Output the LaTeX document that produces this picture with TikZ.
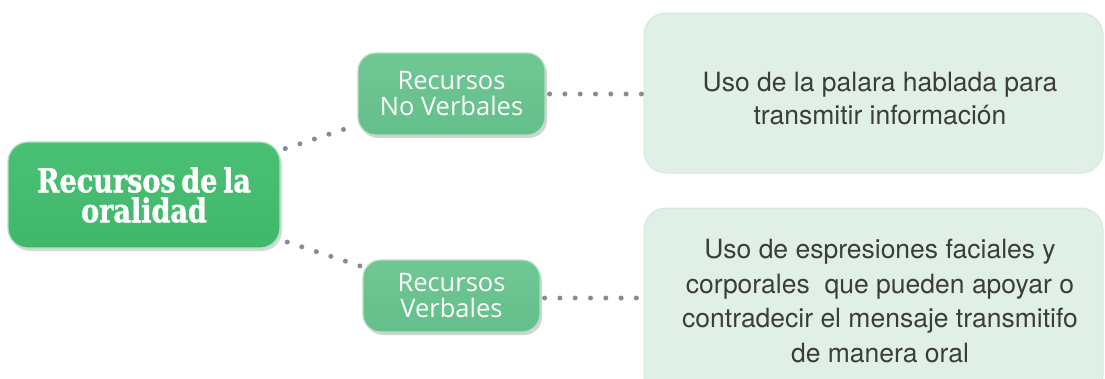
\documentclass[tikz,border=0pt]{standalone}
\usepackage{fontspec}
\setmainfont{TeX Gyre Heros}
\newfontfamily\midfont{Open Sans}
\newfontfamily\mainfont[FakeStretch=0.82,WordSpace=0.6,BoldFeatures={FakeBold=1.2}]{DejaVu Serif}
\usetikzlibrary{shadows}
\definecolor{maingreen}{RGB}{64,184,106}
\definecolor{maingreentop}{RGB}{74,192,116}
\definecolor{midgreen}{RGB}{100,191,138}
\definecolor{midgreentop}{RGB}{112,199,148}
\definecolor{edgegreen}{RGB}{178,224,193}
\definecolor{palegreen}{RGB}{225,240,230}
\definecolor{paleedge}{RGB}{210,233,218}
\definecolor{dotgray}{RGB}{138,138,148}
\definecolor{txtgray}{RGB}{60,60,60}
\tikzset{
  mainbox/.style={rounded corners=20pt, top color=maingreentop, bottom color=maingreen,
    draw=edgegreen, line width=1.2pt, minimum width=272pt, minimum height=106pt,
    align=center, text=white, inner sep=0pt,
    font=\mainfont\bfseries\fontsize{33}{30}\selectfont,
    drop shadow={shadow xshift=2pt, shadow yshift=-3pt, opacity=0.3, fill=gray}},
  midbox/.style={rounded corners=18pt, top color=midgreentop, bottom color=midgreen,
    draw=edgegreen, line width=1.2pt, align=center, text=white, inner sep=0pt,
    font=\midfont\fontsize{25.5}{26}\selectfont,
    drop shadow={shadow xshift=2pt, shadow yshift=-3pt, opacity=0.35, fill=gray}},
  infobox/.style={rounded corners=22pt, fill=palegreen, draw=paleedge, line width=1pt,
    minimum width=459pt, inner sep=0pt},
  infotext/.style={text=txtgray, align=center, inner sep=0pt},
  dotline/.style={draw=dotgray, line width=5pt, line cap=round, dash pattern=on 0pt off 15.3pt},
}
\begin{document}
\begin{tikzpicture}[x=1pt,y=-1pt]
\useasboundingbox (0,0) rectangle (1105,378);
\clip (0,0) rectangle (1105,378);
\node[mainbox] (main) at (144,195) {Recursos de la\\oralidad};
\node[midbox, minimum width=187pt, minimum height=82pt] (nv) at (451.5,94) {Recursos\\No Verbales};
\node[midbox, minimum width=177pt, minimum height=72pt] (v) at (451.5,296) {Recursos\\Verbales};
\node[infobox, minimum height=160pt] (r1) at (873.5,93) {};
\node[infobox, minimum height=190pt] (r2) at (873.5,303) {};
\node[infotext, font=\fontsize{26.5}{33}\selectfont] (t1) at (880,99) {Uso de la palara hablada para\\transmitir información};
\node[infotext, font=\fontsize{26.5}{34.5}\selectfont] (t2) at (880,301) {Uso de espresiones faciales y\\corporales\ \ que pueden apoyar o\\contradecir el mensaje transmitifo\\de manera oral};
\draw[dotline, shorten <=5pt] (main) -- (nv);
\draw[dotline, shorten <=7pt] (main) -- (v);
\draw[dotline, shorten <=4pt] (nv.east) -- (nv.east -| r1.west);
\draw[dotline, shorten <=4pt] (v.east |- 0,298) coordinate (ve) -- (ve -| r2.west);
\end{tikzpicture}
\end{document}
